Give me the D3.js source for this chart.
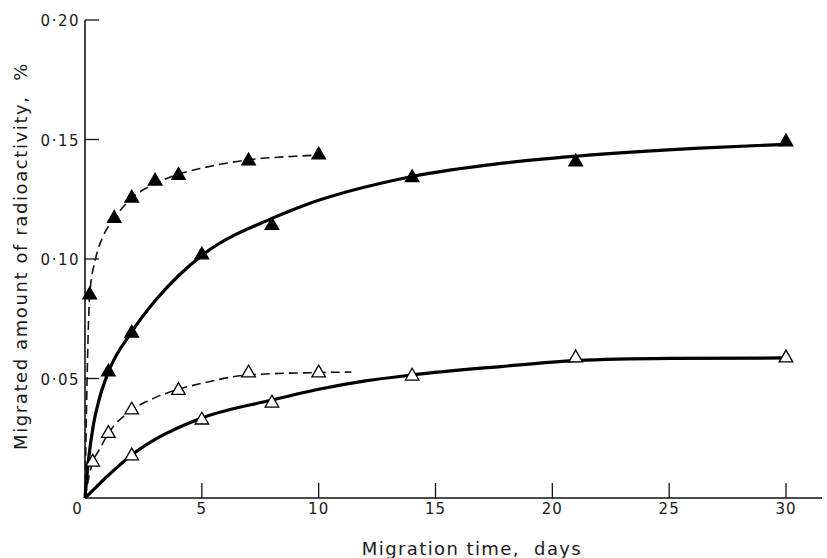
<!DOCTYPE html>
<html>
<head>
<meta charset="utf-8">
<script src="https://cdn.jsdelivr.net/npm/d3@7"></script>
<style>
  html, body { margin: 0; padding: 0; background: #fff; }
  svg text { font-family: "DejaVu Sans", sans-serif; fill: #1a1a1a; }
</style>
</head>
<body>
<svg id="chart" width="827" height="558"></svg>
<script>
// ---- Data ----
const xTicks = [5, 10, 15, 20, 25, 30];
const yTicks = [0.05, 0.10, 0.15, 0.20];
const yTickLabels = ["0·05", "0·10", "0·15", "0·20"];

// Measured points
const filledDashedDays = [0.2, 1.25, 2, 3, 4, 7, 10];
const filledDashedVals = [0.085, 0.117, 0.1255, 0.1326, 0.135, 0.141, 0.1435];

const filledSolidDays = [1, 2, 5, 8, 14, 21, 30];
const filledSolidVals = [0.0527, 0.069, 0.1017, 0.114, 0.134, 0.1406, 0.149];

const openDashedDays = [0.33, 1, 2, 4, 7, 10];
const openDashedVals = [0.015, 0.027, 0.0368, 0.045, 0.0523, 0.0523];

const openSolidDays = [2, 5, 8, 14, 21, 30];
const openSolidVals = [0.0176, 0.0326, 0.0397, 0.051, 0.0586, 0.0586];

// Hand-drawn fitted curves
const filledDashedCurveDays = [0, 0.08, 0.2, 0.45, 0.8, 1.25, 2, 3, 4, 5, 7, 9, 10];
const filledDashedCurveVals = [0, 0.045, 0.085, 0.1, 0.11, 0.117, 0.1255, 0.1315, 0.1355, 0.138, 0.1415, 0.143, 0.1435];

const filledSolidCurveDays = [0, 0.15, 0.35, 0.6, 1, 2, 3, 4, 5, 8, 9.2, 14, 17.8, 21, 26.3, 30];
const filledSolidCurveVals = [0, 0.016, 0.03, 0.041, 0.0527, 0.0695, 0.0825, 0.093, 0.1015, 0.117, 0.1218, 0.1345, 0.14, 0.143, 0.1464, 0.148];

const openDashedCurveDays = [0, 0.15, 0.33, 0.6, 1, 2, 3, 4, 5, 7, 10, 11.4];
const openDashedCurveVals = [0, 0.008, 0.015, 0.02, 0.027, 0.0368, 0.042, 0.0455, 0.048, 0.0515, 0.0525, 0.0527];

const openSolidCurveDays = [0, 0.5, 1, 2, 3, 5, 8, 10, 12, 14, 17.8, 21, 25, 30];
const openSolidCurveVals = [0, 0.0048, 0.0095, 0.018, 0.0245, 0.0335, 0.041, 0.0455, 0.049, 0.0515, 0.055, 0.0575, 0.0584, 0.0586];

// ---- Layout ----
const svg = d3.select("#chart");
const x = d3.scaleLinear().domain([0, 30]).range([85, 786]);
const y = d3.scaleLinear().domain([0, 0.20]).range([498, 20]);

const zip = (a, b) => a.map((d, i) => [d, b[i]]);
const line = d3.line().x(d => x(d[0])).y(d => y(d[1])).curve(d3.curveMonotoneX);

// Axes lines
svg.append("line").attr("x1", x(0)).attr("x2", x(0)).attr("y1", y(0.20)).attr("y2", y(0))
  .attr("stroke", "#111").attr("stroke-width", 1.6);
svg.append("line").attr("x1", x(0)).attr("x2", 822).attr("y1", y(0)).attr("y2", y(0))
  .attr("stroke", "#111").attr("stroke-width", 1.6);

// Y ticks (pointing inward)
svg.selectAll(".ytick").data(yTicks).enter().append("line")
  .attr("x1", x(0)).attr("x2", x(0) + 14)
  .attr("y1", d => y(d)).attr("y2", d => y(d))
  .attr("stroke", "#111").attr("stroke-width", 1.3);
svg.selectAll(".ylab").data(yTicks).enter().append("text")
  .attr("x", 80).attr("y", d => y(d) + 6)
  .attr("text-anchor", "end")
  .attr("font-size", 15).attr("letter-spacing", 1.5)
  .text((d, i) => yTickLabels[i]);

// X ticks (pointing inward)
svg.selectAll(".xtick").data(xTicks).enter().append("line")
  .attr("x1", d => x(d)).attr("x2", d => x(d))
  .attr("y1", y(0) - 15).attr("y2", y(0))
  .attr("stroke", "#111").attr("stroke-width", 1.3);
svg.selectAll(".xlab").data(xTicks).enter().append("text")
  .attr("x", d => x(d)).attr("y", 514)
  .attr("text-anchor", "middle")
  .attr("font-size", 15).attr("letter-spacing", 1)
  .text(d => d);
svg.append("text").attr("x", 77).attr("y", 514).attr("text-anchor", "middle")
  .attr("font-size", 15).text("0");

// Axis titles
svg.append("text").attr("x", 472).attr("y", 555).attr("text-anchor", "middle")
  .attr("font-size", 18).attr("letter-spacing", 1.4)
  .style("white-space", "pre")
  .text("Migration time,  days");
svg.append("text")
  .attr("transform", "translate(27,256) rotate(-90)")
  .attr("text-anchor", "middle")
  .attr("font-size", 18).attr("letter-spacing", 1.6)
  .style("white-space", "pre")
  .text("Migrated amount of radioactivity,  %");

// Curves
svg.append("path").datum(zip(filledDashedCurveDays, filledDashedCurveVals))
  .attr("d", line).attr("fill", "none").attr("stroke", "#111")
  .attr("stroke-width", 1.6).attr("stroke-dasharray", "9,5");
svg.append("path").datum(zip(openDashedCurveDays, openDashedCurveVals))
  .attr("d", line).attr("fill", "none").attr("stroke", "#111")
  .attr("stroke-width", 1.6).attr("stroke-dasharray", "9,5");
svg.append("path").datum(zip(filledSolidCurveDays, filledSolidCurveVals))
  .attr("d", line).attr("fill", "none").attr("stroke", "#000")
  .attr("stroke-width", 3.2);
svg.append("path").datum(zip(openSolidCurveDays, openSolidCurveVals))
  .attr("d", line).attr("fill", "none").attr("stroke", "#000")
  .attr("stroke-width", 3.2);

// Markers
const tri = d3.symbol().type(d3.symbolTriangle).size(80);
function markers(days, vals, filled) {
  svg.append("g").selectAll("path").data(zip(days, vals)).enter().append("path")
    .attr("d", tri)
    .attr("transform", d => `translate(${x(d[0])},${y(d[1])})`)
    .attr("fill", filled ? "#000" : "#fff")
    .attr("stroke", "#000").attr("stroke-width", 1.3);
}
markers(filledDashedDays, filledDashedVals, true);
markers(filledSolidDays, filledSolidVals, true);
markers(openDashedDays, openDashedVals, false);
markers(openSolidDays, openSolidVals, false);
</script>
</body>
</html>
